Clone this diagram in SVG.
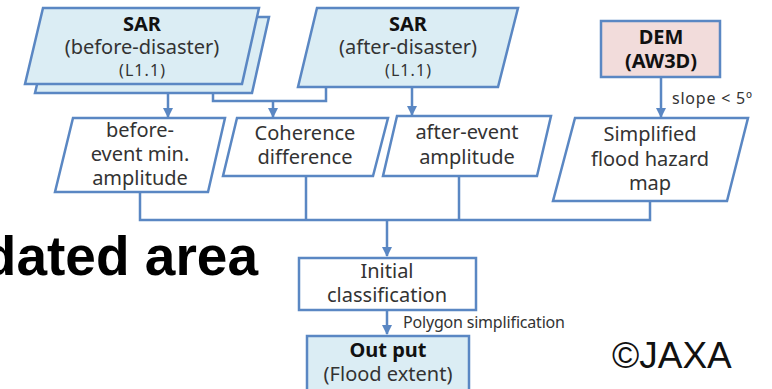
<svg xmlns="http://www.w3.org/2000/svg" width="772" height="389" viewBox="0 0 772 389">
<defs>
<marker id="ah" viewBox="0 0 10 10" refX="9" refY="5" markerWidth="4" markerHeight="4" orient="auto" markerUnits="strokeWidth">
<path d="M0,0 L10,5 L0,10 z" fill="#5a87c3"/>
</marker>
<style>
.s{stroke:#5a87c3;stroke-width:2.5;stroke-linejoin:miter}
.blue{fill:#dbedf4}
.pink{fill:#f2dcdb}
.wh{fill:#ffffff}
.ln{fill:none;stroke:#5a87c3;stroke-width:2.5}
.t{font-family:"Noto Sans","DejaVu Sans",sans-serif;fill:#333;text-anchor:middle}
.m{font-size:20px}
.b{font-size:20px;font-weight:bold;fill:#111}
.sm{font-size:16px}
.lb{font-family:"Noto Sans","DejaVu Sans",sans-serif;fill:#333;font-size:16px}
</style>
</defs>
<g id="big-title"><text x="258" y="275" text-anchor="end" style="font-family:'Liberation Sans',Arial,sans-serif;font-weight:bold;font-size:55px;fill:#000">dated area</text></g>
<g id="connectors">
<path class="ln" d="M168,93 V117" marker-end="url(#ah)"/>
<path class="ln" d="M213,93 V101 H326 V87"/>
<path class="ln" d="M273,101 V117" marker-end="url(#ah)"/>
<path class="ln" d="M412,87 V115" marker-end="url(#ah)"/>
<path class="ln" d="M661,77 V117" marker-end="url(#ah)"/>
<path class="ln" d="M140,192 V220 H650 V201"/>
<path class="ln" d="M306,176 V220"/>
<path class="ln" d="M459,176 V220"/>
<path class="ln" d="M387,220 V256" marker-end="url(#ah)"/>
<path class="ln" d="M387,310 V334" marker-end="url(#ah)"/>
<text class="lb" x="672" y="104" textLength="80" lengthAdjust="spacing">slope &lt; 5º</text>
<text class="lb" x="403" y="328" textLength="162" lengthAdjust="spacing">Polygon simplification</text>
</g>
<g id="sar-before">
<polygon class="s blue" points="53,17 269,17 252,93 35,93"/>
<polygon class="s blue" points="43,8 259,8 242,84 25,84"/>
<text class="t b" x="142" y="31">SAR</text>
<text class="t m" x="142" y="54">(before-disaster)</text>
<text class="t sm" x="142" y="76" textLength="46" lengthAdjust="spacing">(L1.1)</text>
</g>
<g id="sar-after">
<polygon class="s blue" points="317,8 518,8 498,87 298,87"/>
<text class="t b" x="408" y="31">SAR</text>
<text class="t m" x="408" y="54">(after-disaster)</text>
<text class="t sm" x="408" y="76" textLength="46" lengthAdjust="spacing">(L1.1)</text>
</g>
<g id="dem">
<rect class="s pink" x="601" y="21" width="119" height="56"/>
<text class="t b" x="661" y="44">DEM</text>
<text class="t b" x="661" y="68">(AW3D)</text>
</g>
<g id="before-event">
<polygon class="s wh" points="73,118 225,118 208,192 55,192"/>
<text class="t m" x="140" y="137">before-</text>
<text class="t m" x="140" y="161">event min.</text>
<text class="t m" x="140" y="185">amplitude</text>
</g>
<g id="coherence">
<polygon class="s wh" points="237,118 388,118 373,176 223,176"/>
<text class="t m" x="305" y="140">Coherence</text>
<text class="t m" x="305" y="164">difference</text>
</g>
<g id="after-event">
<polygon class="s wh" points="397,116 551,116 537,176 383,176"/>
<text class="t m" x="467" y="139">after-event</text>
<text class="t m" x="467" y="164">amplitude</text>
</g>
<g id="hazard">
<polygon class="s wh" points="575,118 748,118 727,201 553,201"/>
<text class="t m" x="650" y="141">Simplified</text>
<text class="t m" x="650" y="166">flood hazard</text>
<text class="t m" x="650" y="190">map</text>
</g>
<g id="initial">
<rect class="s wh" x="299" y="258" width="177" height="52"/>
<text class="t m" x="387" y="278">Initial</text>
<text class="t m" x="387" y="302">classification</text>
</g>
<g id="output">
<rect class="s blue" x="307" y="336" width="162" height="60"/>
<text class="t b" x="388" y="357">Out put</text>
<text class="t m" x="388" y="381">(Flood extent)</text>
</g>
<g id="copyright"><text x="612" y="368" style="font-family:'Liberation Sans',Arial,sans-serif;font-size:37px;fill:#111">©JAXA</text></g>
</svg>
